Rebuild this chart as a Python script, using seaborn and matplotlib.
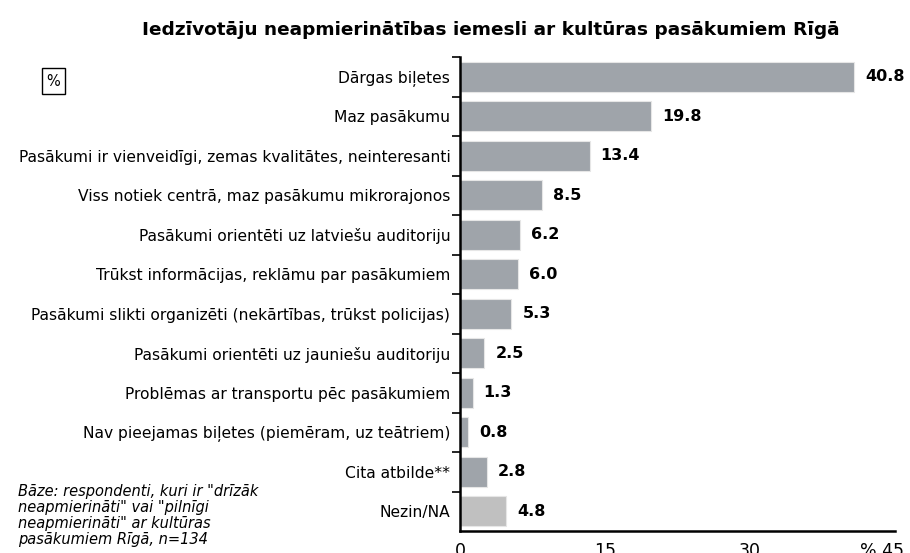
import matplotlib
matplotlib.use("Agg")
import matplotlib.pyplot as plt
import matplotlib.transforms as mtransforms
import seaborn as sns
import pandas as pd
from matplotlib.ticker import FixedLocator

categories = [
    "Dārgas biļetes",
    "Maz pasākumu",
    "Pasākumi ir vienveidīgi, zemas kvalitātes, neinteresanti",
    "Viss notiek centrā, maz pasākumu mikrorajonos",
    "Pasākumi orientēti uz latviešu auditoriju",
    "Trūkst informācijas, reklāmu par pasākumiem",
    "Pasākumi slikti organizēti (nekārtības, trūkst policijas)",
    "Pasākumi orientēti uz jauniešu auditoriju",
    "Problēmas ar transportu pēc pasākumiem",
    "Nav pieejamas biļetes (piemēram, uz teātriem)",
    "Cita atbilde**",
    "Nezin/NA",
]
values = [40.8, 19.8, 13.4, 8.5, 6.2, 6.0, 5.3, 2.5, 1.3, 0.8, 2.8, 4.8]
x_ticks = [0, 15, 30, 45]
x_tick_labels = ["0", "15", "30", "% 45"]

title = "Iedzīvotāju neapmierinātības iemesli ar kultūras pasākumiem Rīgā"
footnote = 'Bāze: respondenti, kuri ir "drīzāk\nneapmierināti" vai "pilnīgi\nneapmierināti" ar kultūras\npasākumiem Rīgā, n=134'

sns.set_theme(style="white")
plt.rcParams["font.family"] = ["DejaVu Sans"]
plt.rcParams["text.color"] = "black"
plt.rcParams["xtick.color"] = "black"
plt.rcParams["ytick.color"] = "black"

df = pd.DataFrame({"cat": categories, "val": values})
colors = ["#9fa4aa"] * (len(categories) - 1) + ["#c0c0c0"]

fig = plt.figure(figsize=(9.10, 5.53), dpi=100)
ax = fig.add_axes([460 / 910, 1 - 531 / 553, (895 - 460) / 910, (531 - 57) / 553])

sns.barplot(data=df, x="val", y="cat", hue="cat", palette=colors, legend=False,
            width=0.76, ax=ax, saturation=1, edgecolor="#e6e6e6", linewidth=0.8)

ax.set_xlim(0, 45)
ax.set_ylim(len(categories) - 0.5, -0.5)
ax.set_xlabel("")
ax.set_ylabel("")

for s in ["top", "right"]:
    ax.spines[s].set_visible(False)
for s in ["left", "bottom"]:
    ax.spines[s].set_color("black")
    ax.spines[s].set_linewidth(1.8)

ax.set_xticks(x_ticks)
ax.set_xticklabels(x_tick_labels, fontsize=12.5)
ax.tick_params(axis="x", direction="out", length=6, width=1.2, colors="black", pad=2)
# keep "45" centred under its tick, with "%" to its left
last = ax.get_xticklabels()[-1]
last.set_horizontalalignment("right")
last.set_transform(last.get_transform() + mtransforms.ScaledTranslation(8.5 / 100, 0, fig.dpi_scale_trans))

ax.tick_params(axis="y", which="major", length=0, pad=7, labelsize=11.2, labelcolor="black")
ax.yaxis.set_minor_locator(FixedLocator([i - 0.5 for i in range(len(categories))]))
ax.tick_params(axis="y", which="minor", direction="out", length=6, width=1.2, color="black", left=True)

for i, v in enumerate(values):
    ax.annotate(f"{v:.1f}", xy=(v, i), xytext=(8, 0), textcoords="offset points",
                va="center", ha="left", fontsize=11.5, fontweight="bold", color="black")

fig.text(491 / 910, 1 - 30 / 553, title, ha="center", va="center", fontsize=13.3,
         fontweight="bold", color="black")
fig.text(53.5 / 910, 1 - 81 / 553, "%", ha="center", va="center", fontsize=10.5, color="black",
         bbox=dict(boxstyle="square,pad=0.35", facecolor="white", edgecolor="black", linewidth=1))
fig.text(18 / 910, 1 - 484 / 553, footnote, ha="left", va="top", fontsize=10.5,
         style="italic", linespacing=1.08, color="black")

fig.savefig("out.png", dpi=100)
